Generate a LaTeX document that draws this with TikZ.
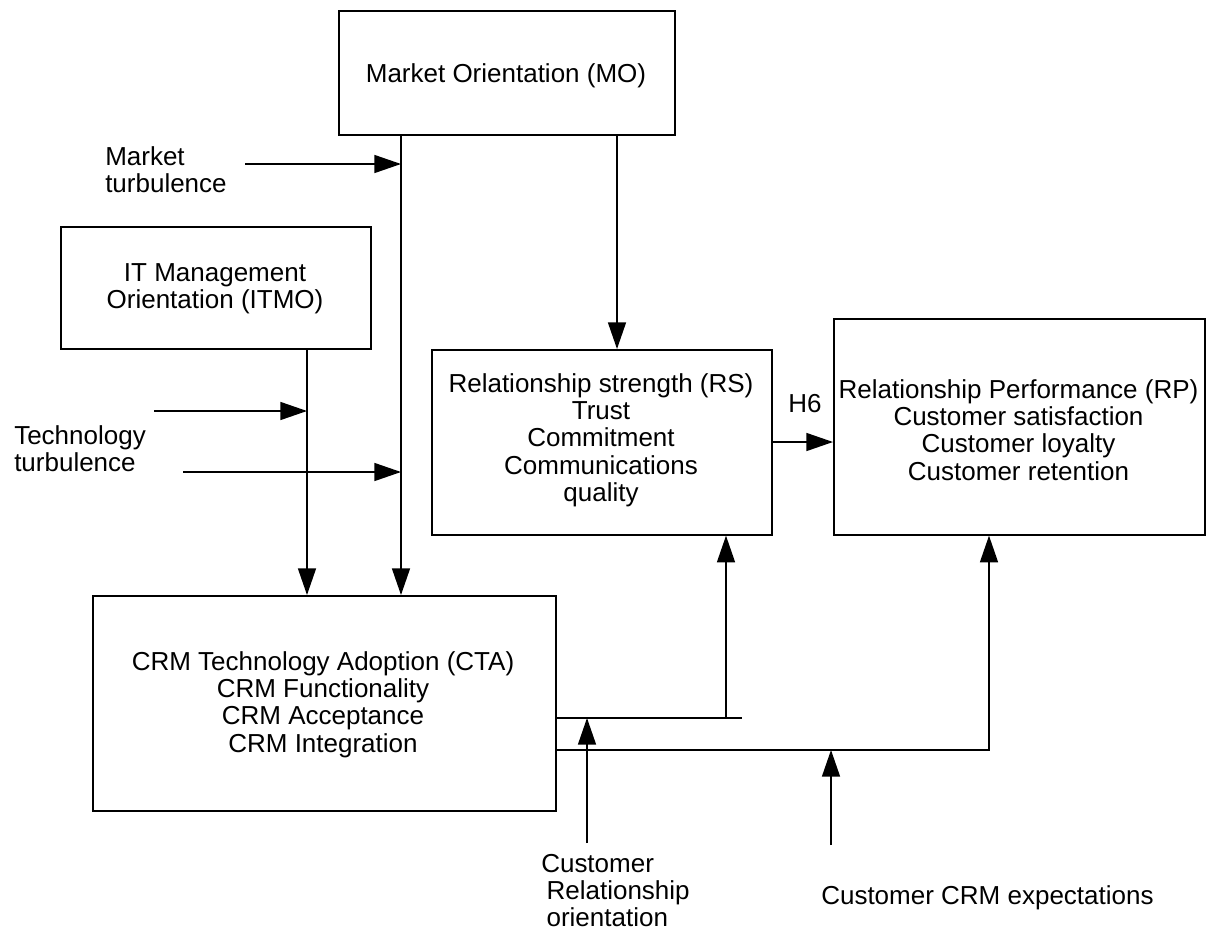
\documentclass[tikz,border=0pt]{standalone}
\usepackage{fontspec}
\setmainfont{Liberation Sans}
\usetikzlibrary{arrows.meta}
\newcommand{\mlc}[1]{\begin{tabular}[t]{@{}c@{}}#1\end{tabular}}
\newcommand{\mll}[1]{\begin{tabular}[t]{@{}l@{}}#1\end{tabular}}
\begin{document}
\begin{tikzpicture}[x=0.75pt,y=-0.75pt,
  box/.style={draw, line width=1.25pt, rectangle, inner sep=0pt, anchor=north west},
  lbl/.style={inner sep=0pt, font=\fontsize{19.5}{20.6}\selectfont},
  conn/.style={line width=1.1pt},
  arr/.style={conn, -{Triangle[length=20pt,width=13.5pt]}}]
\useasboundingbox (0,0) rectangle (1211,936);
% boxes
\node[box, minimum width=252pt, minimum height=93pt] (mo) at (338,10) {};
\node[box, minimum width=232.5pt, minimum height=91.5pt] (itmo) at (60,226) {};
\node[box, minimum width=255pt, minimum height=138.75pt] (rs) at (431,349) {};
\node[box, minimum width=278.25pt, minimum height=162pt] (rp) at (833,318) {};
\node[box, minimum width=347.25pt, minimum height=161.25pt] (cta) at (92,595) {};
% texts
\node[lbl, anchor=base] (tmo) at (506,82) {Market Orientation (MO)};
\node[lbl, anchor=base] (titmo) at (215,281) {\mlc{IT Management\\Orientation (ITMO)}};
\node[lbl, anchor=base] (trs) at (601,392) {\mlc{Relationship strength (RS)\\Trust\\Commitment\\Communications\\quality}};
\node[lbl, anchor=base] (trp) at (1018.5,398) {\mlc{Relationship Performance (RP)\\Customer satisfaction\\Customer loyalty\\Customer retention}};
\node[lbl, anchor=base] (tcta) at (323,670) {\mlc{CRM Technology Adoption (CTA)\\CRM Functionality\\CRM Acceptance\\CRM Integration}};
\node[lbl, anchor=base west] (th6) at (788,412) {H6};
\node[lbl, anchor=base west] (tmt) at (105,165) {\mll{Market\\turbulence}};
\node[lbl, anchor=base west] (ttt) at (14,444) {\mll{Technology\\turbulence}};
\node[lbl, anchor=base west] (tcro) at (541,872) {\mll{Customer\\\hspace{4pt}Relationship\\\hspace{4pt}orientation}};
\node[lbl, anchor=base west] (tcce) at (821,904) {Customer CRM expectations};
% helper coordinates
\coordinate (xa) at (401,0);
\coordinate (xb) at (617,0);
\coordinate (xc) at (307,0);
\coordinate (xd) at (726,0);
\coordinate (xe) at (989,0);
\coordinate (mt) at (245,164);
\coordinate (tt1) at (154,411);
\coordinate (tt2) at (183,472);
\coordinate (yh) at (0,442);
\coordinate (y1) at (0,718);
\coordinate (y2) at (0,750);
\coordinate (e1) at (742,718);
\coordinate (cro) at (587,843);
\coordinate (cce) at (831,845);
% connectors
\draw[arr] (mo.south -| xa) -- (cta.north -| xa);
\draw[arr] (mo.south -| xb) -- (rs.north -| xb);
\draw[arr] (itmo.south -| xc) -- (cta.north -| xc);
\draw[arr] (mt) -- (mt -| xa);
\draw[arr] (tt1) -- (tt1 -| xc);
\draw[arr] (tt2) -- (tt2 -| xa);
\draw[arr] (rs.east |- yh) -- (rp.west |- yh);
\draw[conn] (cta.east |- y1) -- (e1);
\draw[arr] (y1 -| xd) -- (rs.south -| xd);
\draw[arr] (cta.east |- y2) -- (y2 -| xe) -- (rp.south -| xe);
\draw[arr] (cro) -- (cro |- y1);
\draw[arr] (cce) -- (cce |- y2);
\end{tikzpicture}
\end{document}
